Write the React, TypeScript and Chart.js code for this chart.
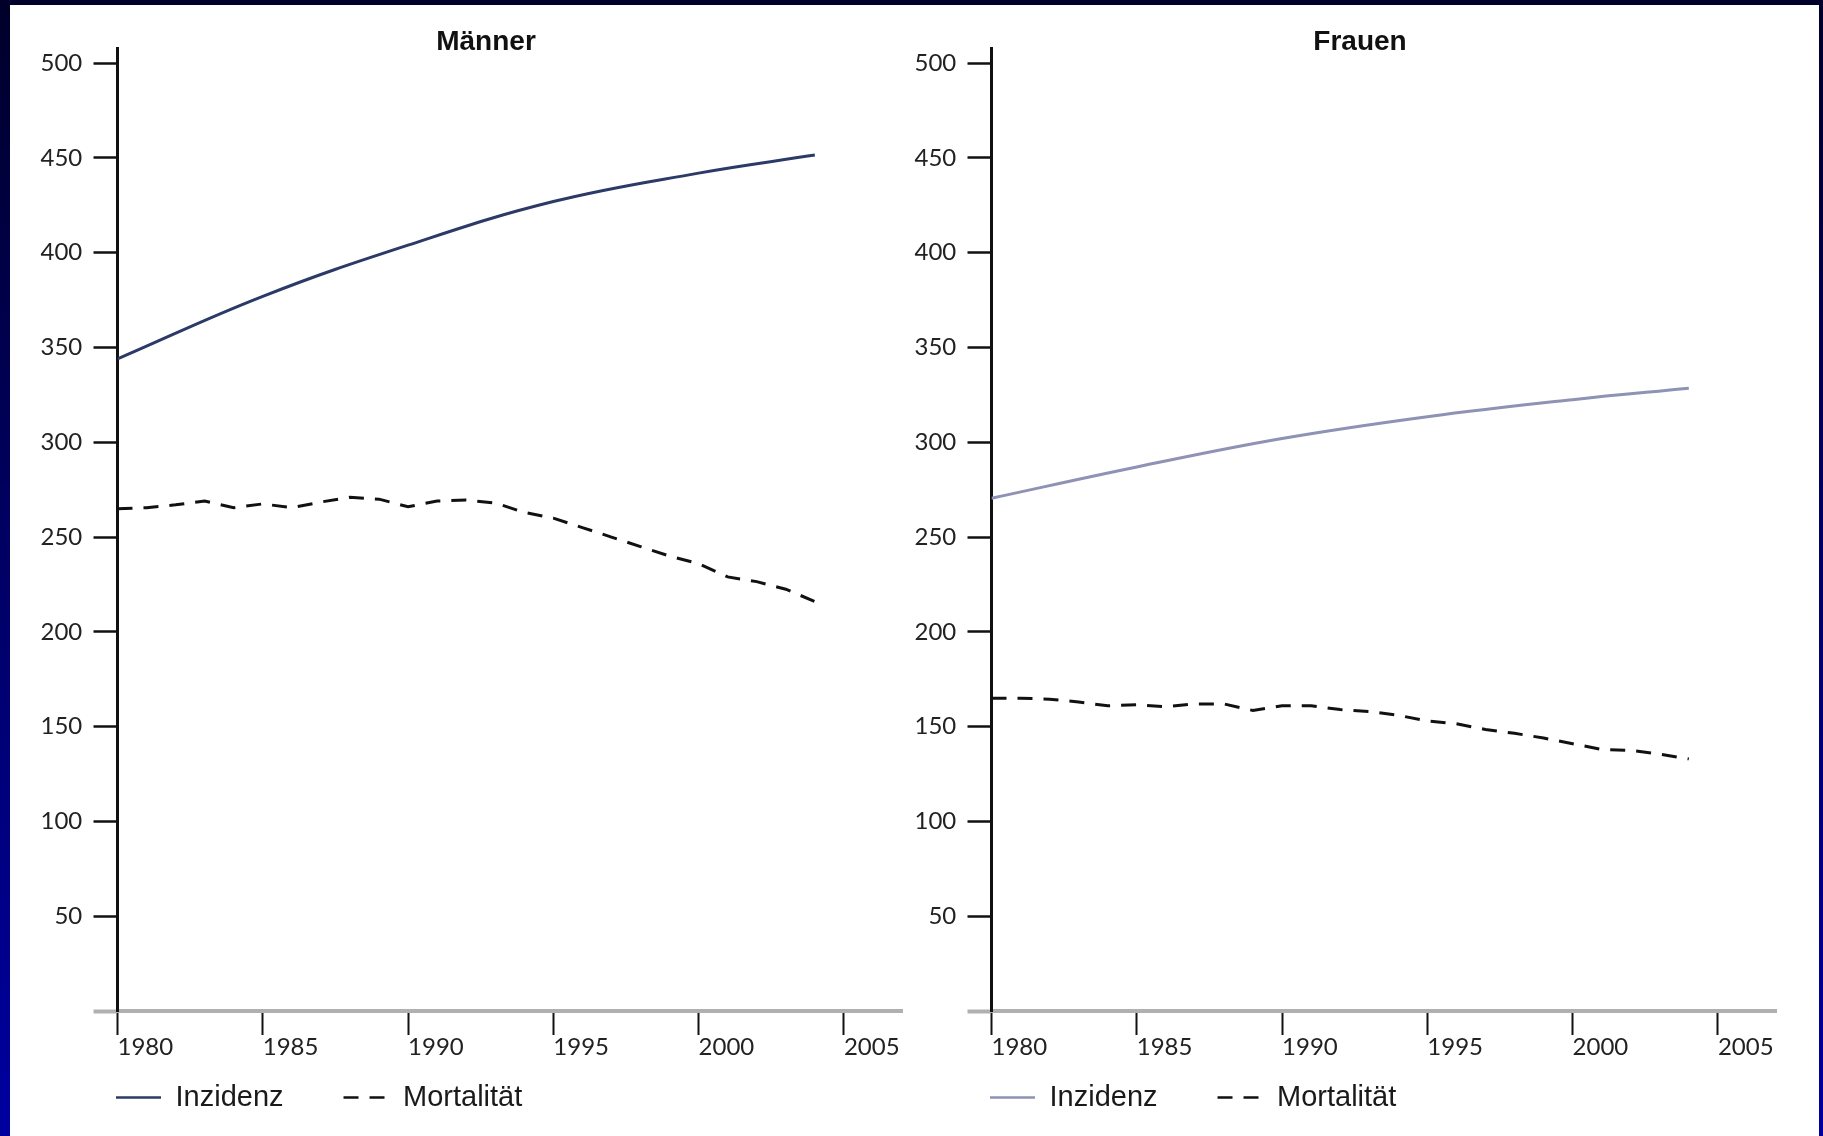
import React, { useEffect, useRef } from 'react';
import { Chart, registerables } from 'chart.js';

Chart.register(...registerables);

// ---- data ----
const PANEL_TITLES = ['Männer', 'Frauen'];
const SERIES_LABELS = ['Inzidenz', 'Mortalität'];

const X_TICKS = [1980, 1985, 1990, 1995, 2000, 2005];
const Y_TICKS = [0, 50, 100, 150, 200, 250, 300, 350, 400, 450, 500];

const YEARS_INZIDENZ = [1980, 1985, 1990, 1995, 2000, 2004];
const MAENNER_INZIDENZ = [344, 377, 404, 427, 442, 451.5];
const FRAUEN_INZIDENZ = [270.5, 287, 302, 313.5, 322.5, 328.5];

const YEARS_MORTALITAET = [
  1980, 1981, 1982, 1983, 1984, 1985, 1986, 1987, 1988, 1989, 1990, 1991, 1992,
  1993, 1994, 1995, 1996, 1997, 1998, 1999, 2000, 2001, 2002, 2003, 2004,
];
const MAENNER_MORTALITAET = [
  265, 265.5, 267, 269, 265.5, 267.5, 265.5, 268.5, 271, 270, 266, 269, 269.5,
  268, 263, 260, 255, 250, 245, 240, 236, 229, 226.5, 222.5, 216,
];
const FRAUEN_MORTALITAET = [
  165, 165, 164.5, 163, 161, 161.5, 160.5, 162, 162, 158.5, 161, 161, 159,
  158, 156, 153, 151.5, 148.5, 146.5, 144, 141, 138, 137.5, 135.5, 133,
];

const TICK_FONT = { family: 'Lato, "DejaVu Sans", sans-serif', size: 24 };
const TEXT_FONT = 'Liberation Sans, Arial, sans-serif';

type PanelProps = {
  inz: number[];
  mort: number[];
  inzColor: string;
  left: number;
};

function Panel({ inz, mort, inzColor, left }: PanelProps) {
  const ref = useRef<HTMLCanvasElement | null>(null);

  useEffect(() => {
    if (!ref.current) return;
    const chart = new Chart(ref.current, {
      type: 'line',
      data: {
        datasets: [
          {
            label: SERIES_LABELS[0],
            data: YEARS_INZIDENZ.map((x, i) => ({ x, y: inz[i] })),
            borderColor: inzColor,
            backgroundColor: inzColor,
            borderWidth: 3,
            pointRadius: 0,
            tension: 0.4,
            fill: false,
          },
          {
            label: SERIES_LABELS[1],
            data: YEARS_MORTALITAET.map((x, i) => ({ x, y: mort[i] })),
            borderColor: '#111111',
            backgroundColor: '#111111',
            borderWidth: 3,
            borderDash: [15, 11],
            pointRadius: 0,
            tension: 0,
            fill: false,
          },
        ],
      },
      options: {
        animation: false,
        responsive: true,
        maintainAspectRatio: false,
        layout: { padding: { left: 46, right: 8, top: 43, bottom: 14 } },
        plugins: {
          title: { display: false },
          tooltip: { enabled: false },
          legend: {
            display: true,
            position: 'bottom',
            align: 'start',
            title: { display: true, text: '', padding: 0, font: { size: 10, lineHeight: 1.2 } },
            labels: {
              usePointStyle: true,
              pointStyle: 'line',
              pointStyleWidth: 45,
              padding: 60,
              color: '#1a1a1a',
              font: { family: TEXT_FONT, size: 29 },
              generateLabels: (c: any) => {
                const items = Chart.defaults.plugins.legend.labels.generateLabels(c);
                return items.map((it: any) => {
                  const ds: any = c.data.datasets[it.datasetIndex];
                  return {
                    ...it,
                    strokeStyle: ds.borderColor,
                    lineWidth: 2.5,
                    lineDash: ds.borderDash || [],
                  };
                });
              },
            },
          },
        },
        scales: {
          x: {
            type: 'linear',
            position: { y: 0 },
            min: 1980,
            max: 2007,
            afterBuildTicks: (s: any) => {
              s.ticks = X_TICKS.map((v) => ({ value: v }));
            },
            grid: {
              drawOnChartArea: false,
              drawTicks: true,
              tickLength: 22,
              tickWidth: 2,
              tickColor: '#111111',
            },
            border: { display: true, color: '#b0b0b0', width: 4 },
            ticks: {
              align: 'start',
              padding: 0,
              maxRotation: 0,
              minRotation: 0,
              autoSkip: false,
              color: '#222222',
              font: TICK_FONT,
              callback: (v: any) => String(v),
            },
          },
          y: {
            type: 'linear',
            position: 'left',
            min: 0,
            max: 508,
            afterBuildTicks: (s: any) => {
              s.ticks = Y_TICKS.map((v) => ({ value: v }));
            },
            afterFit: (s: any) => {
              s.width = 61.5;
            },
            grid: {
              drawOnChartArea: false,
              drawTicks: true,
              tickLength: 24,
              tickWidth: (ctx: any) => (ctx.tick && ctx.tick.value === 0 ? 4 : 2.5),
              tickColor: (ctx: any) => (ctx.tick && ctx.tick.value === 0 ? '#b0b0b0' : '#111111'),
            },
            border: { display: true, color: '#111111', width: 3 },
            ticks: {
              mirror: true,
              crossAlign: 'far',
              padding: -77,
              color: '#222222',
              font: TICK_FONT,
              autoSkip: false,
              callback: (v: any) => (Number(v) === 0 ? '' : String(v)),
            },
          },
        },
      },
    } as any);
    return () => chart.destroy();
  }, [inz, mort, inzColor]);

  return (
    <div style={{ position: 'absolute', left, top: 5, width: 900, height: 1131 }}>
      <canvas ref={ref} />
    </div>
  );
}

export default function App() {
  const titleStyle: React.CSSProperties = {
    position: 'absolute',
    top: 41,
    transform: 'translate(-50%, -50%)',
    fontFamily: TEXT_FONT,
    fontWeight: 'bold',
    fontSize: 28,
    color: '#111111',
    whiteSpace: 'nowrap',
    lineHeight: 1,
  };
  return (
    <div
      style={{
        position: 'fixed',
        left: 0,
        top: 0,
        width: 1823,
        height: 1136,
        background: 'linear-gradient(to bottom, #00002a, #0000a0)',
        overflow: 'hidden',
      }}
    >
      <div
        style={{
          position: 'absolute',
          left: 10,
          top: 5,
          width: 1809,
          height: 1131,
          background: '#ffffff',
        }}
      />
      <Panel inz={MAENNER_INZIDENZ} mort={MAENNER_MORTALITAET} inzColor="#2b3a67" left={10} />
      <Panel inz={FRAUEN_INZIDENZ} mort={FRAUEN_MORTALITAET} inzColor="#8e92b4" left={884} />
      <div style={{ ...titleStyle, left: 486 }}>{PANEL_TITLES[0]}</div>
      <div style={{ ...titleStyle, left: 1360 }}>{PANEL_TITLES[1]}</div>
    </div>
  );
}
